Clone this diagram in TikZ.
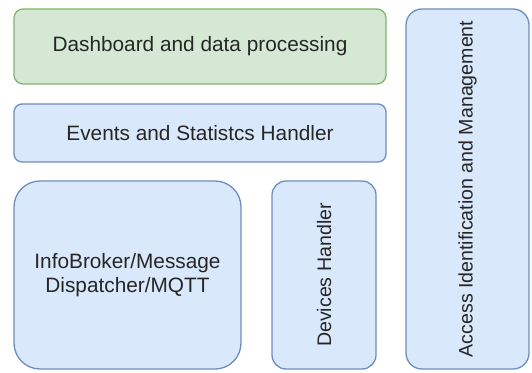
\documentclass[tikz,border=0pt]{standalone}
\usepackage{fontspec}
\setmainfont{Liberation Sans}
\definecolor{greenfill}{HTML}{D5E8D4}
\definecolor{greenline}{HTML}{82B366}
\definecolor{bluefill}{HTML}{DAE8FC}
\definecolor{blueline}{HTML}{6C8EBF}
\begin{document}
\begin{tikzpicture}[x=1pt, y=1pt, line width=1.3pt, text=black!85, font=\fontsize{20.8}{24}\selectfont,
	block/.style = {draw=blueline, fill=bluefill, inner sep=0pt, align=center},
	greenblock/.style = {block, draw=greenline, fill=greenfill},
	side/.style = {rotate=90, font=\fontsize{19.6}{23}\selectfont}]
	\useasboundingbox (0,0) rectangle (532,372);
	\node[greenblock, rounded corners=9pt, minimum width=372pt, minimum height=75pt] (dash) at (200,325.5) {Dashboard and data processing};
	\node[block, rounded corners=8pt, minimum width=372pt, minimum height=58pt] (events) at (200,239) {Events and Statistcs Handler};
	\node[block, rounded corners=26pt, minimum width=227pt, minimum height=188pt] (broker) at (127.5,97) {InfoBroker/Message\\Dispatcher/MQTT};
	\node[block, rounded corners=14pt, minimum width=104pt, minimum height=188pt] (devices) at (324,97) {};
	\node[side] (devtext) at (devices.center) {Devices Handler};
	\node[block, rounded corners=16pt, minimum width=123pt, minimum height=360pt] (access) at (467.5,183) {};
	\node[side] (acctext) at (access.center) {Access Identification and Management};
\end{tikzpicture}
\end{document}
